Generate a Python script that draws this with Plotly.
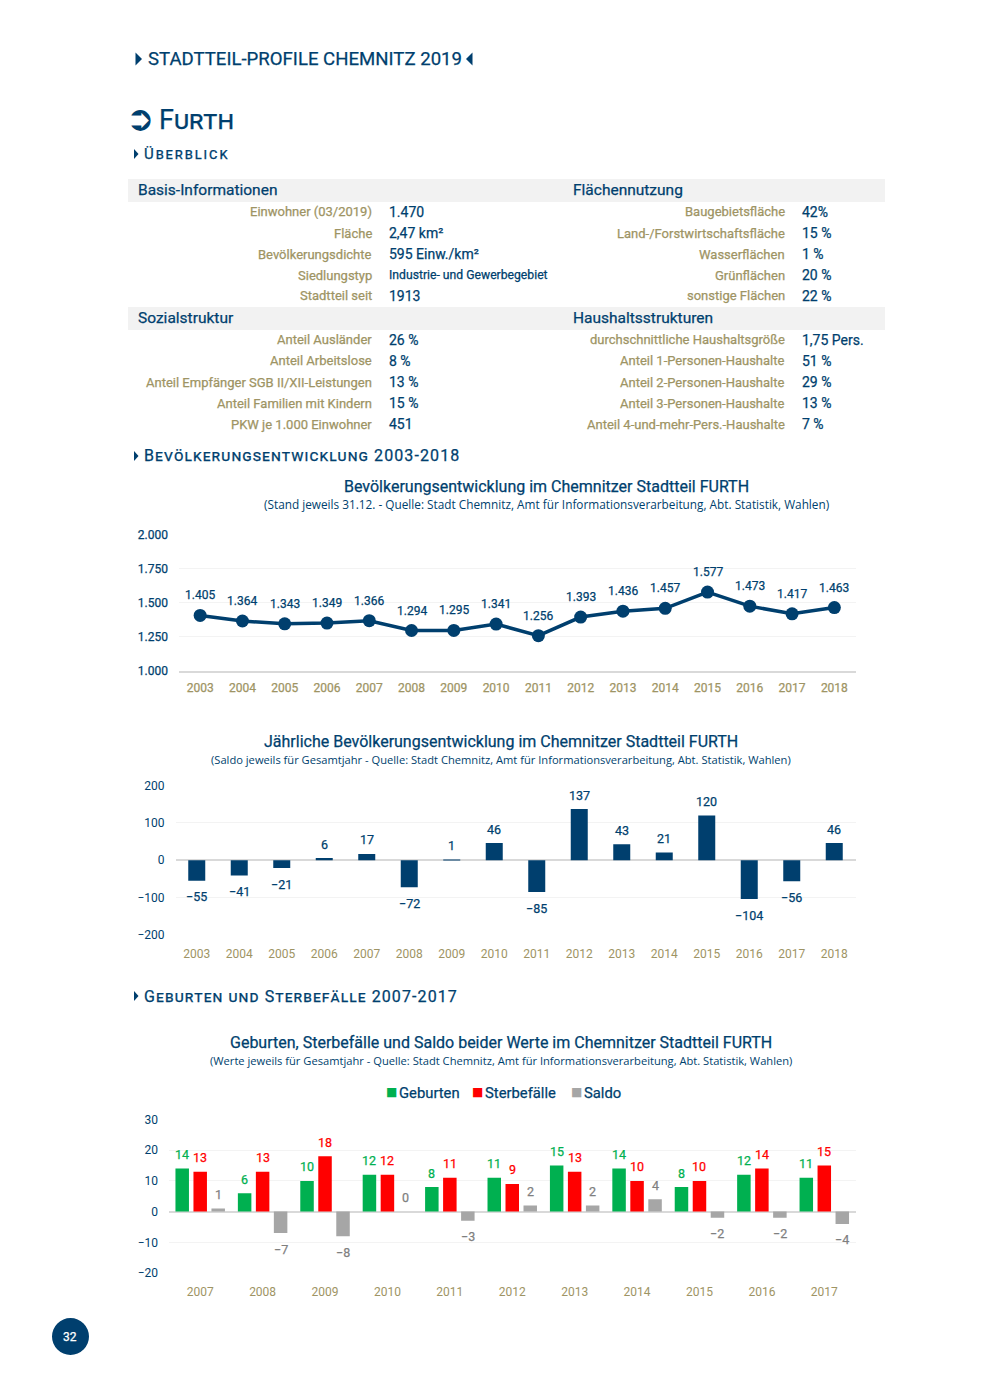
import plotly.graph_objects as go

W, H = 990, 1389
NAVY = "#003F6E"
TAN = "#9E9464"
GREEN = "#00B050"
RED = "#FF0000"
GREY = "#A6A6A6"
GRID = "#F3F3F3"
ZERO = "#D9D9D9"
DIN = "Roboto"
SUB = "Open Sans"

# table
basis_labels = ["Einwohner (03/2019)", "Fläche", "Bevölkerungsdichte", "Siedlungstyp", "Stadtteil seit"]
basis_values = ["1.470", "2,47 km²", "595 Einw./km²", "Industrie- und Gewerbegebiet", "1913"]
flaeche_labels = ["Baugebietsfläche", "Land-/Forstwirtschaftsfläche", "Wasserflächen", "Grünflächen", "sonstige Flächen"]
flaeche_values = ["42%", "15 %", "1 %", "20 %", "22 %"]
sozial_labels = ["Anteil Ausländer", "Anteil Arbeitslose", "Anteil Empfänger SGB II/XII-Leistungen", "Anteil Familien mit Kindern", "PKW je 1.000 Einwohner"]
sozial_values = ["26 %", "8 %", "13 %", "15 %", "451"]
haushalt_labels = ["durchschnittliche Haushaltsgröße", "Anteil 1-Personen-Haushalte", "Anteil 2-Personen-Haushalte", "Anteil 3-Personen-Haushalte", "Anteil 4-und-mehr-Pers.-Haushalte"]
haushalt_values = ["1,75 Pers.", "51 %", "29 %", "13 %", "7 %"]

# charts
years_a = ["2003", "2004", "2005", "2006", "2007", "2008", "2009", "2010", "2011", "2012", "2013", "2014", "2015", "2016", "2017", "2018"]
einwohner = [1405, 1364, 1343, 1349, 1366, 1294, 1295, 1341, 1256, 1393, 1436, 1457, 1577, 1473, 1417, 1463]
saldo_jahr = [-55, -41, -21, 6, 17, -72, 1, 46, -85, 137, 43, 21, 120, -104, -56, 46]
years_b = ["2007", "2008", "2009", "2010", "2011", "2012", "2013", "2014", "2015", "2016", "2017"]
geburten = [14, 6, 10, 12, 8, 11, 15, 14, 8, 12, 11]
sterbefaelle = [13, 13, 18, 12, 11, 9, 13, 10, 10, 14, 15]
saldo = [1, -7, -8, 0, -3, 2, 2, 4, -2, -2, -4]

fig = go.Figure()
ann, shapes = [], []


def px(x):
    return x / W


def py(y):
    return 1 - y / H


def text(x, y, s, size, color=NAVY, anchor="left", family=DIN, weight=400, variant="normal"):
    ann.append(dict(x=px(x), y=py(y), xref="paper", yref="paper", text=s, showarrow=False,
                    xanchor=anchor, yanchor="middle", align=anchor, borderpad=0, borderwidth=0,
                    font=dict(size=size, color=color, family=family, weight=weight, variant=variant)))


def tri(x0, x1, ymid, half):
    shapes.append(dict(type="path", xref="paper", yref="paper", line_width=0, fillcolor=NAVY,
                       path=f"M {px(x0)} {py(ymid - half)} L {px(x1)} {py(ymid)} L {px(x0)} {py(ymid + half)} Z"))


# headings
tri(135.5, 142, 59, 6.5)
text(148, 59, "STADTTEIL-PROFILE CHEMNITZ 2019", 18.6)
tri(472.5, 466, 59, 6.5)
text(126, 118, "➲", 34, family="DejaVu Sans")
text(159, 120, "Furth", 27, variant="small-caps")
tri(134, 138.5, 154, 5)
text(144, 154, "Überblick", 15, variant="small-caps")
tri(134, 138.5, 456, 5)
text(144, 456, "Bevölkerungsentwicklung 2003-2018", 16, variant="small-caps")
tri(134, 138.5, 996, 5)
text(144, 996, "Geburten und Sterbefälle 2007-2017", 16, variant="small-caps")

# table
for y0, y1 in [(179, 202), (307, 330)]:
    shapes.append(dict(type="rect", xref="paper", yref="paper", x0=px(128), x1=px(885), y0=py(y0), y1=py(y1),
                       fillcolor="#F2F2F2", line_width=0, layer="below"))
text(137.5, 190, "Basis-Informationen", 15.5)
text(573, 190, "Flächennutzung", 15.5)
text(137.5, 318, "Sozialstruktur", 15.5)
text(573, 318, "Haushaltsstrukturen", 15.5)
rows_top = [212, 233, 254, 275, 296]
rows_bot = [340, 361, 382, 403, 424]
for labels, values, rows, xl, xv in [
    (basis_labels, basis_values, rows_top, 372, 389),
    (flaeche_labels, flaeche_values, rows_top, 785, 802),
    (sozial_labels, sozial_values, rows_bot, 372, 389),
    (haushalt_labels, haushalt_values, rows_bot, 785, 802),
]:
    for lab, val, y in zip(labels, values, rows):
        text(xl, y, lab, 13, color=TAN, anchor="right")
        text(xv, y, val, 12.2 if val.startswith("Industrie") else 14)


def dom_x(a, b):
    return [px(a), px(b)]


def dom_y(top, bottom):
    return [py(bottom), py(top)]


# chart 1
fig.add_trace(go.Scatter(x=years_a, y=einwohner, mode="lines+markers", xaxis="x", yaxis="y",
                         line=dict(color=NAVY, width=3.5), marker=dict(size=13, color=NAVY), showlegend=False))
for i, v in enumerate(einwohner):
    ann.append(dict(x=i, y=v, xref="x", yref="y", yshift=20, showarrow=False,
                    text=f"{v:,}".replace(",", "."), font=dict(size=12, color=NAVY, family=DIN)))

# chart 2
fig.add_trace(go.Bar(x=years_a, y=saldo_jahr, xaxis="x2", yaxis="y2", marker=dict(color=NAVY, line_width=0),
                     showlegend=False, width=0.4))
for i, v in enumerate(saldo_jahr):
    ann.append(dict(x=i, y=v, xref="x2", yref="y2", yshift=14 if v >= 0 else -16, showarrow=False,
                    text=str(v).replace("-", "−"), font=dict(size=12.5, color=NAVY, family=DIN)))

# chart 3
for name, vals, col, txt in [("Geburten", geburten, GREEN, GREEN),
                             ("Sterbefälle", sterbefaelle, RED, RED),
                             ("Saldo", saldo, GREY, "#7F7F7F")]:
    fig.add_trace(go.Bar(x=years_b, y=vals, name=name, xaxis="x3", yaxis="y3", offsetgroup=name,
                         marker=dict(color=col, line_width=0), showlegend=False))
    xshift = {"Geburten": -18, "Sterbefälle": 0, "Saldo": 18}[name]
    for i, v in enumerate(vals):
        ann.append(dict(x=i, y=v, xref="x3", yref="y3", xshift=xshift, yshift=14 if v >= 0 else -16, showarrow=False,
                        text=str(v).replace("-", "−"), font=dict(size=12.5, color=txt, family=DIN)))

# titles
text(546, 486, "Bevölkerungsentwicklung im Chemnitzer Stadtteil FURTH", 16, anchor="center")
text(546, 504, "(Stand jeweils 31.12. - Quelle: Stadt Chemnitz, Amt für Informationsverarbeitung, Abt. Statistik, Wahlen)", 11.8, anchor="center", family=SUB)
text(501, 741, "Jährliche Bevölkerungsentwicklung im Chemnitzer Stadtteil FURTH", 16, anchor="center")
text(501, 759, "(Saldo jeweils für Gesamtjahr - Quelle: Stadt Chemnitz, Amt für Informationsverarbeitung, Abt. Statistik, Wahlen)", 11.15, anchor="center", family=SUB)
text(501, 1042, "Geburten, Sterbefälle und Saldo beider Werte im Chemnitzer Stadtteil FURTH", 16, anchor="center")
text(501, 1060, "(Werte jeweils für Gesamtjahr - Quelle: Stadt Chemnitz, Amt für Informationsverarbeitung, Abt. Statistik, Wahlen)", 11.15, anchor="center", family=SUB)

# legend
for x, name, col in [(386, "Geburten", GREEN), (472, "Sterbefälle", RED), (571, "Saldo", GREY)]:
    text(x, 1092, f'<span style="color:{col}">■</span>', 12, family="DejaVu Sans")
    text(x + 12.5, 1093, name, 14.8)

# page number
shapes.append(dict(type="circle", xref="paper", yref="paper", x0=px(52), x1=px(89), y0=py(1355), y1=py(1318),
                   fillcolor=NAVY, line_width=0))
text(70, 1337, "32", 12, color="white", anchor="center")


def xaxis(a, b, anchor, order, standoff):
    return dict(domain=dom_x(a, b), anchor=anchor, type="category", categoryorder="array", categoryarray=order,
                range=[-0.5, len(order) - 0.5], showgrid=False, zeroline=False, showline=False, ticks="",
                tickfont=dict(size=12, color=TAN, family=DIN), ticklabelstandoff=standoff, fixedrange=True,
                automargin=False)


def yaxis(top, bottom, anchor, rng, dtick, standoff=10):
    return dict(domain=dom_y(top, bottom), anchor=anchor, range=rng, dtick=dtick, tickformat=",d",
                gridcolor=GRID, gridwidth=1, zeroline=True, zerolinecolor=ZERO, zerolinewidth=1.5, ticks="",
                tickfont=dict(size=12, color=NAVY, family=DIN), ticklabelstandoff=standoff,
                fixedrange=True, automargin=False)


y1 = yaxis(534.5, 670.5, "x", [1000, 2000], 250)
y1["zeroline"] = False
x1 = xaxis(179, 855.5, "y", years_a, 5)
x1.update(showline=True, linecolor=ZERO, linewidth=1.5)

fig.update_layout(
    width=W, height=H, autosize=False, margin=dict(l=0, r=0, t=0, b=0),
    paper_bgcolor="white", plot_bgcolor="white", separators=",.", showlegend=False,
    font=dict(family=DIN, color=NAVY),
    barmode="group", bargap=0.135, bargroupgap=0.25,
    xaxis=x1, yaxis=y1,
    xaxis2=xaxis(175.5, 855.5, "y2", years_a, 10),
    yaxis2=yaxis(785.5, 935, "x2", [-200, 200], 100),
    xaxis3=xaxis(169, 855.5, "y3", years_b, 10),
    yaxis3=yaxis(1119.5, 1273, "x3", [-20, 30], 10),
    annotations=ann, shapes=shapes,
)

spacing = """
document.body.style.margin='0';document.body.style.overflow='hidden';
var sp={'Überblick':'1.9px','Bevölkerungsentwicklung 2003-2018':'1.1px','Geburten und Sterbefälle 2007-2017':'1.1px'};
document.querySelectorAll('.annotation-text, .xtick text, .ytick text').forEach(function(t){
  var s=sp[t.textContent]; if(s){t.style.letterSpacing=s;}
  if(t.style.fontFamily.indexOf('Roboto')>=0){t.style.stroke=t.style.fill;t.style.strokeWidth='0.25px';}
});
"""
fig.write_html("out.html", config={"displayModeBar": False}, post_script=spacing)
